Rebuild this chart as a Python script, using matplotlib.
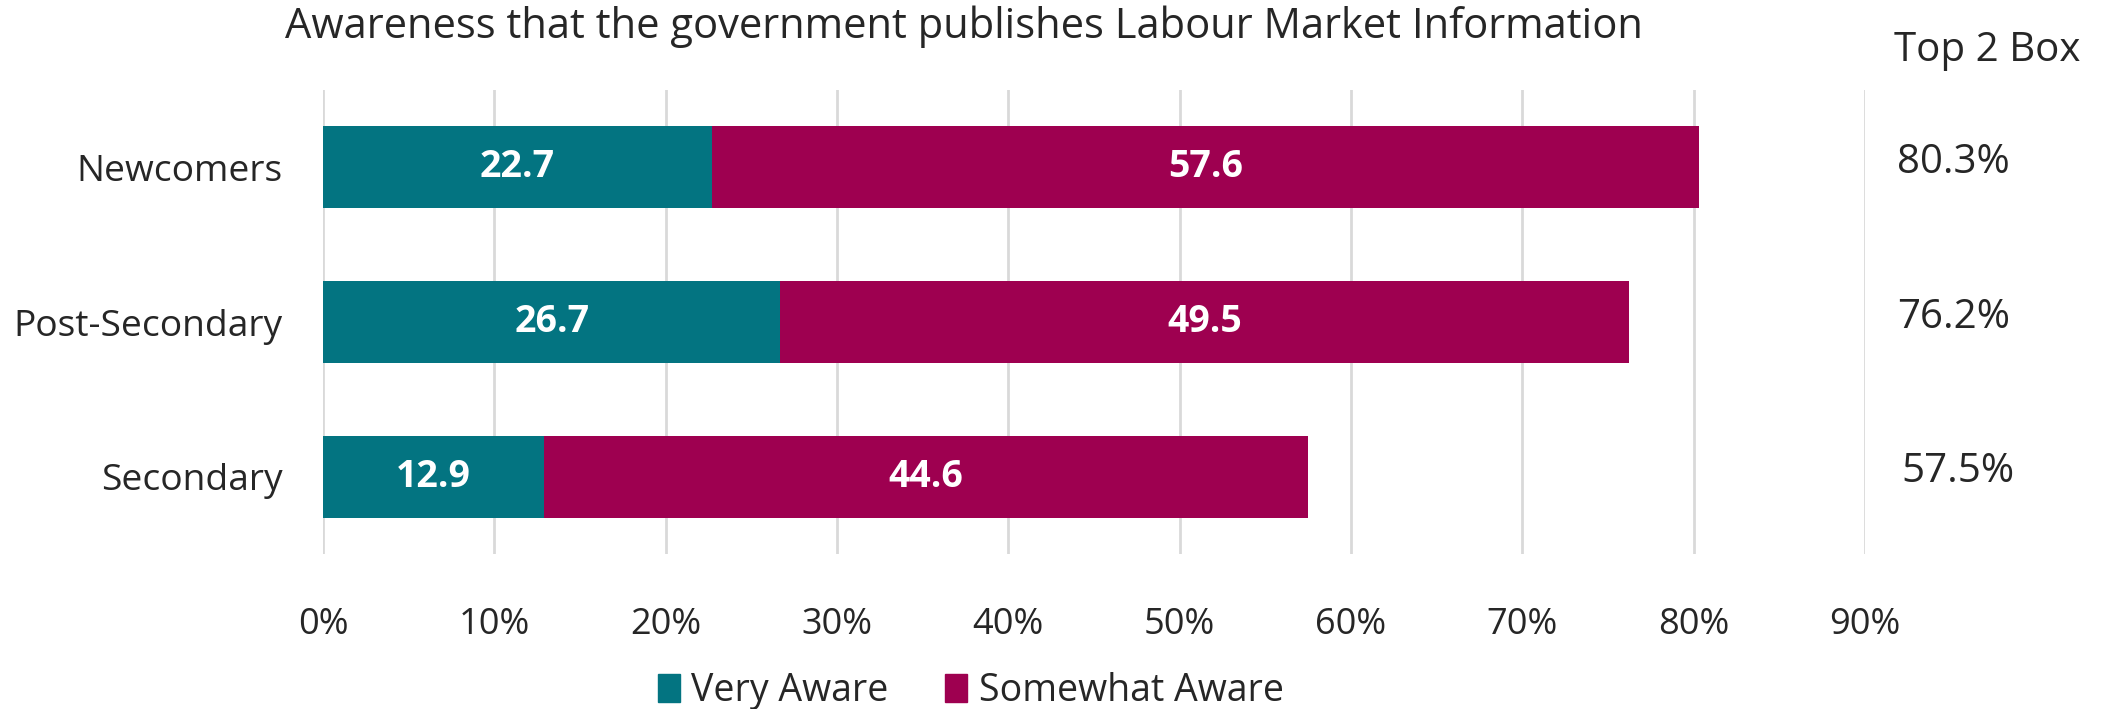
import matplotlib
matplotlib.use("Agg")
import matplotlib.pyplot as plt
from matplotlib.patches import Patch
import matplotlib.transforms as mtransforms
import numpy as np

categories = ["Newcomers", "Post-Secondary", "Secondary"]
very_aware = [22.7, 26.7, 12.9]
somewhat_aware = [57.6, 49.5, 44.6]
series_names = ["Very Aware", "Somewhat Aware"]
xticks = [0, 10, 20, 30, 40, 50, 60, 70, 80, 90]
title = "Awareness that the government publishes Labour Market Information"
side_header = "Top 2 Box"

teal = "#037481"
magenta = "#9E0050"
text_color = "#262626"

plt.rcParams['font.family'] = ['Open Sans', 'DejaVu Sans']

fig = plt.figure(figsize=(21.10, 7.09), dpi=100)
ax = fig.add_axes([0.1531, 0.2186, 0.8839 - 0.1531, 0.873 - 0.2186])

y = np.arange(len(categories))
h = 0.53
b1 = ax.barh(y, very_aware, height=h, color=teal, zorder=3)
b2 = ax.barh(y, somewhat_aware, left=very_aware, height=h, color=magenta, zorder=3)

for bars in (b1, b2):
    for r in bars:
        v = r.get_width()
        ax.text(r.get_x() + v / 2, r.get_y() + r.get_height() / 2, f"{v:.1f}",
                ha="center", va="center", color="white", fontsize=27,
                fontweight="bold", zorder=4)

ax.set_xlim(0, 90)
ax.set_ylim(2.5, -0.5)
ax.set_xticks(xticks)
ax.set_xticklabels([f"{t}%" for t in xticks])
ax.set_yticks(y)
ax.set_yticklabels(categories)
ax.tick_params(axis="x", length=0, pad=38, labelsize=26, colors=text_color)
ax.tick_params(axis="y", length=0, pad=29, labelsize=26.7, colors=text_color)
ax.grid(axis="x", color="#D9D9D9", linewidth=2, zorder=0)
for s in ax.spines.values():
    s.set_visible(False)

fig.text(0.457, 0.962, title, ha="center", va="center", fontsize=30, color=text_color)
fig.text(0.942, 0.929, side_header, ha="center", va="center", fontsize=29, color=text_color)

trans = mtransforms.blended_transform_factory(fig.transFigure, ax.transData)
xs = [0.926, 0.926, 0.928]
for i, (a, b) in enumerate(zip(very_aware, somewhat_aware)):
    ax.text(xs[i], i - 0.03, f"{a + b:.1f}%", transform=trans, ha="center", va="center",
            fontsize=29, color=text_color)

handles = [Patch(color=teal), Patch(color=magenta)]
fig.legend(handles, series_names, loc="center", bbox_to_anchor=(0.46, 0.025), ncol=2,
           frameon=False, fontsize=27, handlelength=0.6, handleheight=0.75,
           handletextpad=0.3, columnspacing=1.5, labelcolor=text_color)

fig.savefig("out.png", dpi=100)
